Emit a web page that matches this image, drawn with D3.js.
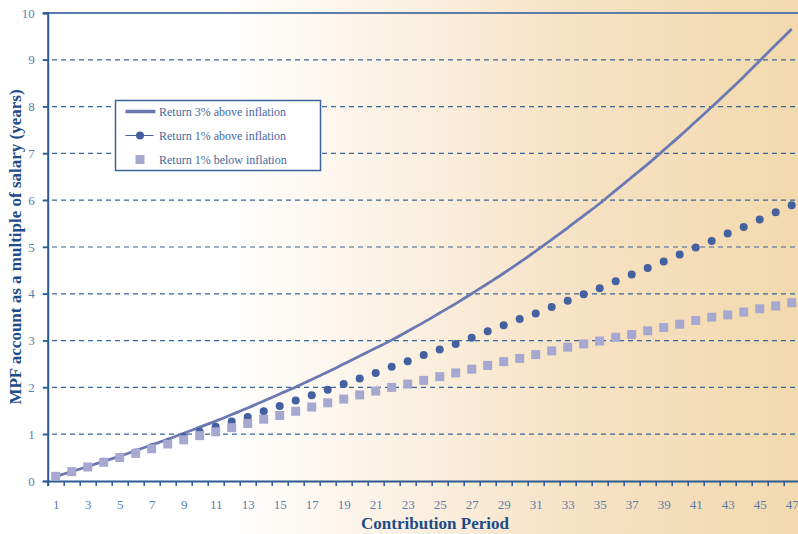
<!DOCTYPE html>
<html>
<head>
<meta charset="utf-8">
<script src="https://cdn.jsdelivr.net/npm/d3@7/dist/d3.min.js"></script>
<style>
  html, body { margin: 0; padding: 0; background: #fff; }
  svg { display: block; }
</style>
</head>
<body>
<svg id="chart" width="798" height="534"></svg>
<script>
// Contribution years (1..47)
const periods = d3.range(1, 48);

// MPF balance as a multiple of salary
const return3Above = [0.10, 0.20, 0.31, 0.42, 0.53, 0.65, 0.77, 0.89, 1.02, 1.15,
  1.28, 1.42, 1.56, 1.71, 1.86, 2.01, 2.17, 2.33, 2.50, 2.67,
  2.84, 3.01, 3.20, 3.39, 3.59, 3.79, 4.00, 4.22, 4.44, 4.67,
  4.91, 5.16, 5.41, 5.67, 5.93, 6.21, 6.49, 6.77, 7.07, 7.37,
  7.68, 7.99, 8.31, 8.64, 8.98, 9.32, 9.66];

const return1Above = [0.10, 0.20, 0.30, 0.41, 0.51, 0.61, 0.72, 0.83, 0.94, 1.05,
  1.16, 1.27, 1.37, 1.49, 1.60, 1.72, 1.83, 1.95, 2.07, 2.19,
  2.31, 2.44, 2.56, 2.69, 2.81, 2.93, 3.06, 3.20, 3.33, 3.46,
  3.58, 3.72, 3.85, 3.99, 4.12, 4.27, 4.41, 4.55, 4.69, 4.84,
  4.99, 5.13, 5.29, 5.43, 5.59, 5.74, 5.89];

const return1Below = [0.10, 0.20, 0.30, 0.40, 0.50, 0.59, 0.69, 0.79, 0.88, 0.97,
  1.05, 1.14, 1.23, 1.32, 1.40, 1.49, 1.58, 1.67, 1.75, 1.84,
  1.92, 2.00, 2.07, 2.15, 2.23, 2.31, 2.39, 2.47, 2.55, 2.62,
  2.70, 2.78, 2.86, 2.93, 2.99, 3.07, 3.13, 3.21, 3.28, 3.35,
  3.43, 3.50, 3.55, 3.61, 3.68, 3.74, 3.81];

const yTicks = d3.range(0, 11);
const xLabels = periods.filter(d => d % 2 === 1);

const legendLabels = ["Return 3% above inflation", "Return 1% above inflation", "Return 1% below inflation"];

const W = 798, H = 534;
const svg = d3.select("#chart");

const x = d3.scaleLinear().domain([0.5, 47.5]).range([47.7, 799.7]);
const y = d3.scaleLinear().domain([0, 10]).range([481, 13]);

const C = {
  axis: "#2c5a92",
  tick: "#5b7dab",
  title: "#1d4c8a",
  grid: "#3a6698",
  line: "#6b79b2",
  dot: "#44609e",
  sq: "#a6a8cf",
  legendText: "#4868a0"
};

// warm background wash, white on the left fading to tan on the right
const defs = svg.append("defs");
const grad = defs.append("linearGradient").attr("id", "bg")
  .attr("x1", 0).attr("x2", 1).attr("y1", 0).attr("y2", 0);
grad.append("stop").attr("offset", 0).attr("stop-color", "#ffffff");
grad.append("stop").attr("offset", 0.28).attr("stop-color", "#ffffff");
grad.append("stop").attr("offset", 0.5).attr("stop-color", "#fbf1e3");
grad.append("stop").attr("offset", 0.74).attr("stop-color", "#f6e1c2");
grad.append("stop").attr("offset", 1).attr("stop-color", "#f2d9ae");
svg.append("rect").attr("width", W).attr("height", H).attr("fill", "url(#bg)");

// dashed horizontal grid
svg.append("g").selectAll("line")
  .data(yTicks.filter(d => d > 0 && d < 10))
  .join("line")
  .attr("x1", 43).attr("x2", W)
  .attr("y1", d => y(d)).attr("y2", d => y(d))
  .attr("stroke", C.grid).attr("stroke-width", 1.2)
  .attr("stroke-dasharray", "5,4");

// top frame line
svg.append("line")
  .attr("x1", 43).attr("x2", W).attr("y1", y(10)).attr("y2", y(10))
  .attr("stroke", "#5a7ea9").attr("stroke-width", 2);

// y axis
const yAxis = svg.append("g").attr("transform", `translate(${x(0.5)},0)`)
  .call(d3.axisLeft(y).tickValues(yTicks).tickSize(5).tickPadding(8).tickFormat(d3.format("d")));
yAxis.select(".domain").attr("stroke", C.axis).attr("stroke-width", 2);
yAxis.selectAll(".tick line").attr("stroke", C.axis).attr("stroke-width", 1.5);
yAxis.selectAll("text").attr("fill", C.tick)
  .style("font-family", "'Liberation Serif', 'DejaVu Serif', serif").style("font-size", "13px");

// x axis: tick marks between periods
const xTickAxis = svg.append("g").attr("transform", `translate(0,${y(0)})`)
  .call(d3.axisBottom(x).tickValues(d3.range(0.5, 48, 1)).tickSize(5).tickFormat(""));
xTickAxis.select(".domain").attr("stroke", C.axis).attr("stroke-width", 2);
xTickAxis.selectAll(".tick line").attr("stroke", C.axis).attr("stroke-width", 1.5);

// x axis: labels on odd periods
const xLabelAxis = svg.append("g").attr("transform", `translate(0,${y(0)})`)
  .call(d3.axisBottom(x).tickValues(xLabels).tickSize(0).tickPadding(19).tickFormat(d3.format("d")));
xLabelAxis.select(".domain").remove();
xLabelAxis.selectAll("text").attr("fill", C.tick)
  .style("font-family", "'Liberation Serif', 'DejaVu Serif', serif").style("font-size", "13px");

// axis titles
svg.append("text")
  .attr("x", 435).attr("y", 529)
  .attr("text-anchor", "middle")
  .attr("fill", C.title)
  .style("font-family", "'Liberation Serif', 'DejaVu Serif', serif")
  .style("font-size", "17px").style("font-weight", "bold")
  .text("Contribution Period");

svg.append("text")
  .attr("transform", `translate(21,${(y(0) + y(10)) / 2}) rotate(-90)`)
  .attr("text-anchor", "middle")
  .attr("fill", C.title)
  .style("font-family", "'Liberation Serif', 'DejaVu Serif', serif")
  .style("font-size", "17px").style("font-weight", "bold")
  .text("MPF account as a multiple of salary (years)");

// series
const line3 = d3.line()
  .x((d, i) => x(periods[i]))
  .y(d => y(d))
  .curve(d3.curveMonotoneX);

svg.append("path")
  .datum(return3Above)
  .attr("d", line3)
  .attr("fill", "none")
  .attr("stroke", C.line)
  .attr("stroke-width", 2.8);

svg.append("g").selectAll("circle")
  .data(return1Above)
  .join("circle")
  .attr("cx", (d, i) => x(periods[i]))
  .attr("cy", d => y(d))
  .attr("r", 4)
  .attr("fill", C.dot);

const sqSize = 9;
svg.append("g").selectAll("rect")
  .data(return1Below)
  .join("rect")
  .attr("x", (d, i) => x(periods[i]) - sqSize / 2)
  .attr("y", d => y(d) - sqSize / 2)
  .attr("width", sqSize).attr("height", sqSize)
  .attr("fill", C.sq);

// legend
const lg = svg.append("g").attr("transform", "translate(115.5,100.5)");
lg.append("rect").attr("width", 205).attr("height", 70)
  .attr("fill", "#fff").attr("stroke", "#3a659b").attr("stroke-width", 1.5);

const rowsY = [11, 35, 59];
const lgFont = "'Liberation Serif', 'DejaVu Serif', serif";

lg.append("line").attr("x1", 10).attr("x2", 40).attr("y1", rowsY[0]).attr("y2", rowsY[0])
  .attr("stroke", C.line).attr("stroke-width", 3.5);
lg.append("line").attr("x1", 10).attr("x2", 38).attr("y1", rowsY[1]).attr("y2", rowsY[1])
  .attr("stroke", C.dot).attr("stroke-width", 1);
lg.append("circle").attr("cx", 24.5).attr("cy", rowsY[1]).attr("r", 4).attr("fill", C.dot);
lg.append("rect").attr("x", 20).attr("y", rowsY[2] - 4.5).attr("width", 9).attr("height", 9).attr("fill", C.sq);

lg.selectAll("text.lbl")
  .data(legendLabels)
  .join("text")
  .attr("class", "lbl")
  .attr("x", 43.5)
  .attr("y", (d, i) => rowsY[i] + 4)
  .attr("fill", C.legendText)
  .style("font-family", lgFont)
  .style("font-size", "12px")
  .text(d => d);
</script>
</body>
</html>
